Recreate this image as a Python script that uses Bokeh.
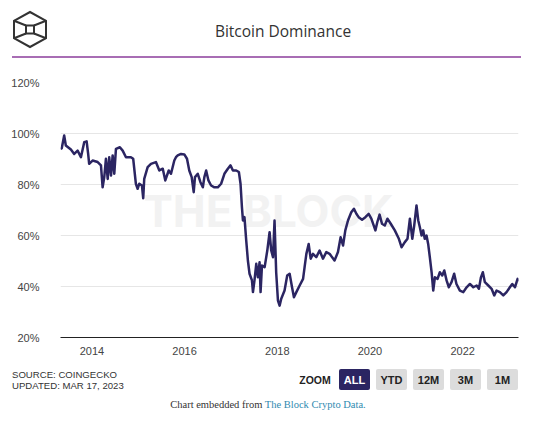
import pandas as pd
from bokeh.plotting import figure
from bokeh.layouts import column
from bokeh.models import (Range1d, FixedTicker, PrintfTickFormatter,
                          DatetimeTickFormatter, Label, ColumnDataSource, Div)
from bokeh.embed import file_html
from bokeh.resources import INLINE

# ---------------- data ----------------
dates = [
    "2013-04-28", "2013-05-08", "2013-05-27", "2013-06-09", "2013-07-19", "2013-08-14",
    "2013-09-10", "2013-10-06", "2013-11-01", "2013-11-20", "2013-12-02", "2013-12-10",
    "2014-01-06", "2014-02-15", "2014-03-13", "2014-03-26", "2014-04-08", "2014-04-21",
    "2014-05-05", "2014-05-17", "2014-05-31", "2014-06-13", "2014-06-26", "2014-07-09",
    "2014-08-09", "2014-08-31", "2014-09-26", "2014-11-04", "2014-11-22", "2014-12-13",
    "2014-12-27", "2015-01-09", "2015-01-30", "2015-02-09", "2015-02-17", "2015-03-16",
    "2015-04-11", "2015-05-20", "2015-06-16", "2015-07-13", "2015-08-02", "2015-08-29",
    "2015-09-16", "2015-10-12", "2015-10-25", "2015-11-08", "2015-12-04", "2015-12-30",
    "2016-01-20", "2016-02-07", "2016-02-26", "2016-03-13", "2016-03-23", "2016-04-14",
    "2016-05-05", "2016-05-24", "2016-06-05", "2016-06-19", "2016-07-07", "2016-07-28",
    "2016-08-23", "2016-09-19", "2016-10-15", "2016-11-10", "2016-12-07", "2016-12-28",
    "2017-01-16", "2017-02-11", "2017-03-04", "2017-03-17", "2017-03-28", "2017-04-05",
    "2017-04-17", "2017-05-01", "2017-05-14", "2017-05-27", "2017-06-15", "2017-06-23",
    "2017-07-05", "2017-07-19", "2017-08-01", "2017-08-14", "2017-08-22", "2017-09-02",
    "2017-09-23", "2017-10-14", "2017-11-01", "2017-11-14", "2017-11-28", "2017-12-10",
    "2017-12-23", "2018-01-06", "2018-01-19", "2018-02-01", "2018-02-27", "2018-03-20",
    "2018-04-08", "2018-04-27", "2018-05-12", "2018-05-31", "2018-06-26", "2018-07-23",
    "2018-08-04", "2018-08-18", "2018-09-05", "2018-09-21", "2018-10-09", "2018-11-04",
    "2018-11-30", "2018-12-27", "2019-01-22", "2019-02-17", "2019-03-28", "2019-04-24",
    "2019-05-15", "2019-06-03", "2019-06-21", "2019-07-12", "2019-08-07", "2019-08-28",
    "2019-09-16", "2019-10-04", "2019-10-31", "2019-11-26", "2019-12-22", "2020-01-12",
    "2020-02-13", "2020-02-28", "2020-03-17", "2020-04-05", "2020-04-27", "2020-05-18",
    "2020-06-13", "2020-07-15", "2020-08-16", "2020-09-06", "2020-10-02", "2020-10-23",
    "2020-11-11", "2020-11-30", "2020-12-15", "2021-01-02", "2021-01-16", "2021-01-28",
    "2021-02-11", "2021-02-24", "2021-03-08", "2021-03-22", "2021-04-04", "2021-04-17",
    "2021-05-01", "2021-05-14", "2021-05-27", "2021-06-17", "2021-07-05", "2021-07-24",
    "2021-08-09", "2021-08-27", "2021-09-14", "2021-10-05", "2021-10-26", "2021-11-13",
    "2021-12-10", "2022-01-06", "2022-02-01", "2022-02-27", "2022-03-26", "2022-04-21",
    "2022-05-09", "2022-05-25", "2022-06-09", "2022-06-25", "2022-07-22", "2022-08-17",
    "2022-09-07", "2022-09-25", "2022-10-21", "2022-11-17", "2022-12-13", "2023-01-08",
    "2023-01-27", "2023-02-17", "2023-03-10", "2023-03-17",
]
dominance = [
    94.0, 94.2, 99.2, 95.3, 93.7, 92.0,
    93.3, 90.7, 96.6, 96.9, 92.0, 88.1,
    89.4, 88.8, 87.5, 78.9, 82.9, 90.1,
    82.2, 90.7, 83.5, 91.4, 84.2, 94.0,
    94.6, 93.3, 90.7, 90.7, 90.1, 80.3,
    78.3, 80.3, 79.6, 74.6, 82.2, 86.8,
    88.1, 88.8, 85.5, 86.2, 81.6, 85.5,
    84.2, 89.4, 90.7, 91.4, 92.0, 91.8,
    90.1, 85.5, 82.9, 77.0, 82.9, 84.2,
    80.9, 78.9, 82.9, 85.5, 81.6, 79.6,
    78.9, 78.9, 80.3, 84.2, 86.2, 87.5,
    85.5, 85.5, 84.9, 80.3, 71.1, 65.9,
    67.2, 58.0, 50.2, 45.0, 42.4, 37.8,
    42.4, 48.9, 43.6, 49.5, 37.8, 48.2,
    47.6, 54.1, 61.3, 54.1, 51.5, 65.9,
    45.6, 34.5, 32.5, 35.2, 38.4, 44.3,
    45.0, 39.7, 35.8, 37.8, 40.4, 43.0,
    47.6, 52.8, 56.7, 50.9, 52.8, 51.5,
    54.1, 50.9, 53.5, 52.8, 50.2, 53.5,
    59.3, 56.1, 62.0, 65.9, 69.1, 70.5,
    68.5, 67.2, 66.2, 67.2, 68.5, 66.6,
    62.0, 65.2, 68.2, 64.6, 63.9, 66.6,
    64.6, 62.0, 58.7, 55.4, 57.4, 58.7,
    66.6, 58.7, 63.9, 71.8, 65.9, 63.3,
    60.0, 62.0, 58.7, 60.0, 56.7, 51.5,
    45.6, 38.4, 43.6, 43.0, 45.6, 44.3,
    46.3, 42.4, 39.7, 41.7, 45.0, 41.0,
    38.4, 37.8, 39.7, 41.0, 39.7, 40.4,
    39.1, 43.6, 45.6, 41.7, 40.4, 39.1,
    36.5, 38.4, 37.8, 36.5, 37.8, 39.7,
    41.0, 39.7, 43.0, 42.0,
]
x_tick_years = [2014, 2016, 2018, 2020, 2022]
y_ticks = [20, 40, 60, 80, 100, 120]
title_text = "Bitcoin Dominance"
source_lines = ["SOURCE: COINGECKO", "UPDATED: MAR 17, 2023"]
zoom_buttons = ["ALL", "YTD", "12M", "3M", "1M"]
embed_text = "Chart embedded from "
embed_link = "The Block Crypto Data."

W = 523
LINE_COLOR = "#2b2562"
SANS = "Liberation Sans"
DARK = "#333333"


def txt_style(family, size, weight="normal", color=DARK):
    return (f'style="font-family:\'{family}\';font-size:{size};font-weight:{weight};'
            f'fill:{color}"')


# ---------------- header (logo, title, rule) ----------------
HH = 62
cx, cy, r, w, s = 30.0, 29.5, 17.5, 16.0, 4.0
hexpts = [(cx, cy - r), (cx + w, cy - r / 2), (cx + w, cy + r / 2),
          (cx, cy + r), (cx - w, cy + r / 2), (cx - w, cy - r / 2)]
poly = " ".join(f"{a:.1f},{b:.1f}" for a, b in hexpts)
spokes = [((cx - s, cy - s), (cx - w, cy - r / 2)), ((cx + s, cy - s), (cx + w, cy - r / 2)),
          ((cx - s, cy + s), (cx - w, cy + r / 2)), ((cx + s, cy + s), (cx + w, cy + r / 2))]
spoke_svg = "".join(
    f'<line x1="{a[0]}" y1="{a[1]}" x2="{b[0]}" y2="{b[1]}" stroke="{DARK}" stroke-width="2"/>'
    for a, b in spokes)
header_svg = (
    f'<svg xmlns="http://www.w3.org/2000/svg" width="{W}" height="{HH}" style="display:block">'
    f'<polygon points="{poly}" fill="none" stroke="{DARK}" stroke-width="2" stroke-linejoin="miter"/>'
    f'<rect x="{cx - s}" y="{cy - s}" width="{2 * s}" height="{2 * s}" fill="none" stroke="{DARK}" stroke-width="2"/>'
    f'{spoke_svg}'
    f'<text x="283" y="31" text-anchor="middle" dominant-baseline="central" '
    f'{txt_style("Open Sans", "15.5px")}>{title_text}</text>'
    f'<line x1="12" y1="57" x2="521" y2="57" stroke="#8b3d9b" stroke-width="1.5"/>'
    '</svg>'
)
header = Div(text=header_svg, width=W, height=HH, margin=(0, 0, 0, 0))

# ---------------- main chart ----------------
MH = 298
FL, FR, FT, FB = 60, 518, 82 - HH, 337 - HH
x = pd.to_datetime(dates)
src = ColumnDataSource(dict(x=x, y=dominance))
p = figure(width=W, height=MH, x_axis_type="datetime",
           x_range=Range1d(x[0], x[-1]), y_range=Range1d(20, 120),
           toolbar_location=None, output_backend="svg",
           min_border_left=FL, min_border_right=W - FR, min_border_top=FT,
           min_border_bottom=MH - FB, outline_line_color=None, margin=(0, 0, 0, 0))
p.background_fill_color = "white"
p.border_fill_color = "white"

p.add_layout(Label(x=268 - FL, y=FB - (210 - HH), x_units="screen", y_units="screen",
                   text="THE BLOCK", text_font="Inter", text_font_size="44px",
                   text_font_style="bold", text_color="#f2f2f2", text_align="center",
                   text_baseline="middle", level="underlay"))

p.line("x", "y", source=src, line_color=LINE_COLOR, line_width=2.5, line_join="round")

p.xaxis.ticker = FixedTicker(ticks=[pd.Timestamp(f"{yr}-01-01").value / 1e6 for yr in x_tick_years])
p.xaxis.formatter = DatetimeTickFormatter(years="%Y", months="%Y", days="%Y", hours="%Y")
p.xaxis.major_tick_line_color = None
p.xaxis.minor_tick_line_color = None
p.xaxis.axis_line_color = "#222222"
p.xaxis.axis_line_width = 1
p.xaxis.major_label_standoff = 3
p.xaxis.major_label_text_font = SANS
p.xaxis.major_label_text_font_size = "11px"
p.xaxis.major_label_text_color = "#444444"

p.yaxis.ticker = FixedTicker(ticks=y_ticks)
p.yaxis.formatter = PrintfTickFormatter(format="%d%%")
p.yaxis.axis_line_color = None
p.yaxis.major_tick_line_color = None
p.yaxis.minor_tick_line_color = None
p.yaxis.major_label_standoff = 15
p.yaxis.major_label_text_font = SANS
p.yaxis.major_label_text_font_size = "11px"
p.yaxis.major_label_text_color = "#444444"

p.xgrid.grid_line_color = None
p.ygrid.grid_line_color = "#e6e6e6"
p.ygrid.grid_line_width = 1

# ---------------- footer ----------------
FH = 52
parts = [f'<svg xmlns="http://www.w3.org/2000/svg" width="{W}" height="{FH}" style="display:block">']
for line_txt, yy in zip(source_lines, [14, 25]):
    parts.append(f'<text x="12" y="{yy}" dominant-baseline="central" '
                 f'{txt_style(SANS, "9.6px")}>{line_txt}</text>')
parts.append(f'<text x="315" y="20" text-anchor="middle" dominant-baseline="central" '
             f'{txt_style(SANS, "10.5px", "bold", "#222222")}>ZOOM</text>')
btn_left = [339, 376, 413, 450, 487]
btn_w = 31
for i, (bl, lab) in enumerate(zip(btn_left, zoom_buttons)):
    fill = LINE_COLOR if i == 0 else "#dcdcdc"
    tcol = "#ffffff" if i == 0 else "#222222"
    parts.append(f'<rect x="{bl}" y="9" width="{btn_w}" height="21" rx="2" fill="{fill}"/>')
    parts.append(f'<text x="{bl + btn_w / 2}" y="20" text-anchor="middle" dominant-baseline="central" '
                 f'{txt_style(SANS, "11px", "bold", tcol)}>{lab}</text>')
parts.append(f'<text x="268" y="44" text-anchor="middle" dominant-baseline="central" '
             f'{txt_style("Liberation Serif", "10.5px")}>{embed_text}'
             f'<tspan style="fill:#2f8ab0">{embed_link}</tspan></text>')
parts.append('</svg>')
footer = Div(text="".join(parts), width=W, height=FH, margin=(0, 0, 0, 0))

layout = column(header, p, footer, spacing=0)
open("out.html", "w").write(file_html(layout, INLINE))
